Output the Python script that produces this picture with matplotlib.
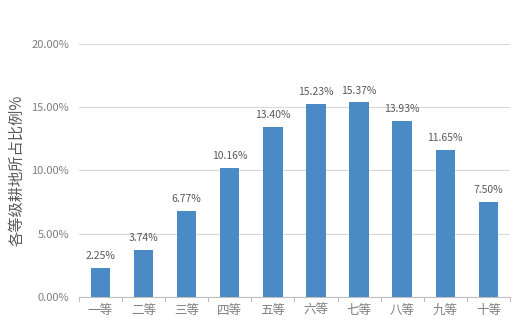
import numpy as np
import matplotlib.pyplot as plt

plt.rcParams['font.family'] = ['Noto Sans CJK SC', 'DejaVu Sans']

# land share by grade
grades = ['一等', '二等', '三等', '四等', '五等', '六等', '七等', '八等', '九等', '十等']
shares = [2.25, 3.74, 6.77, 10.16, 13.40, 15.23, 15.37, 13.93, 11.65, 7.50]

fig = plt.figure(figsize=(5.22, 3.28), dpi=100)
ax = fig.add_axes([0.151, 0.095, 0.826, 0.771])

x = np.arange(len(grades))
bars = ax.bar(x, shares, width=0.45, color='#4a8bc6', zorder=3)

for xi, v in zip(x, shares):
    ax.text(xi, v + 0.55, f'{v:.2f}%', ha='center', va='bottom',
            fontsize=7.5, color='#595959')

ax.set_xlim(-0.5, len(grades) - 0.5)
ax.set_ylim(0, 20)
ax.set_yticks([0, 5, 10, 15, 20])
ax.set_yticklabels([f'{t:.2f}%' for t in [0, 5, 10, 15, 20]])
ax.set_xticks(x)
ax.set_xticklabels(grades)
ax.tick_params(axis='y', length=0, labelsize=8, labelcolor='#7f7f7f', pad=7)
ax.tick_params(axis='x', length=0, labelsize=9, labelcolor='#7f7f7f', pad=5)

# category separator ticks along the baseline
for b in np.arange(-0.5, len(grades) + 0.5, 1):
    ax.plot([b, b], [0, -0.35], color='#bfbfbf', lw=0.8, clip_on=False)

ax.grid(axis='y', color='#d9d9d9', lw=0.8, zorder=0)
for s in ['top', 'right', 'left']:
    ax.spines[s].set_visible(False)
ax.spines['bottom'].set_color('#bfbfbf')

ax.set_ylabel('各等级耕地所占比例%', fontsize=11, color='#595959', labelpad=4)

fig.savefig('out.png', dpi=100)
